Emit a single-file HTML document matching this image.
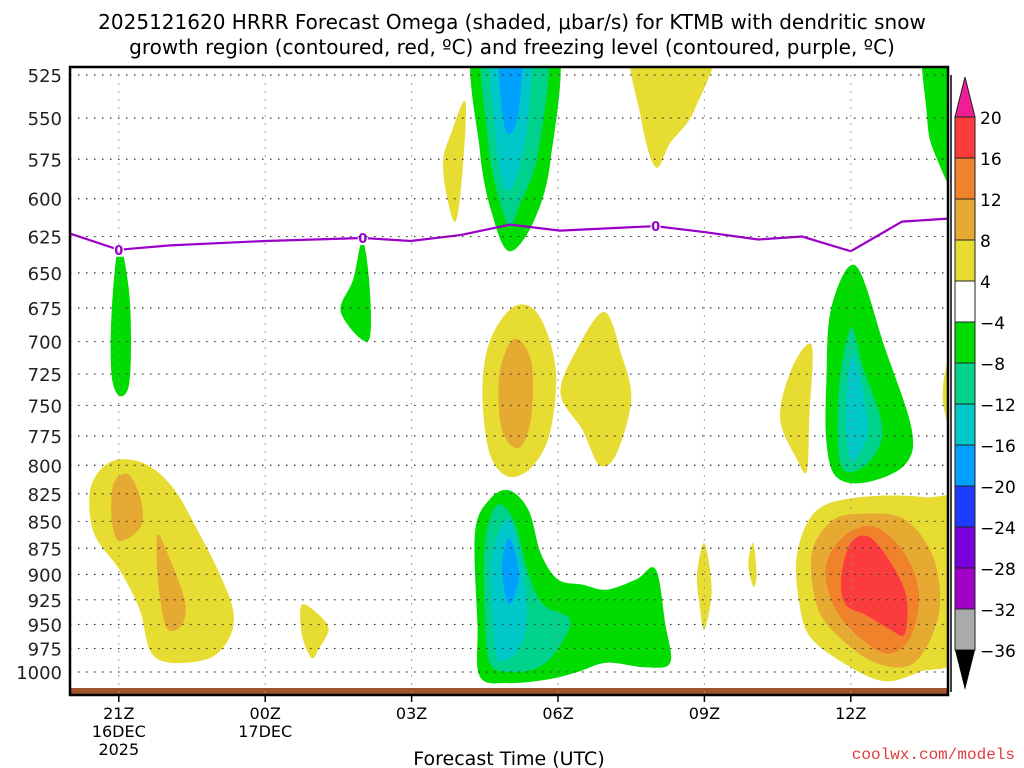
<!DOCTYPE html>
<html><head><meta charset="utf-8"><style>
html,body{margin:0;padding:0;background:#fff;}
svg{display:block;font-family:"DejaVu Sans","Liberation Sans",sans-serif;}
</style></head><body>
<svg id="chart" width="1024" height="768" viewBox="0 0 1024 768" xmlns="http://www.w3.org/2000/svg">
<rect width="1024" height="768" fill="#fff"/>
<text x="512" y="29" font-size="20" text-anchor="middle" fill="#000">2025121620 HRRR Forecast Omega (shaded, μbar/s) for KTMB with dendritic snow</text>
<text x="512" y="54" font-size="20" text-anchor="middle" fill="#000">growth region (contoured, red, ºC) and freezing level (contoured, purple, ºC)</text>
<g id="plot"></g>
<g id="axes"></g>
<g id="cbar"></g>
<text x="509" y="765" font-size="19" text-anchor="middle" fill="#000">Forecast Time (UTC)</text>
<text x="1015" y="759" font-size="16" text-anchor="end" fill="#e03c3c" font-family="Liberation Mono, monospace">coolwx.com/models</text>
</svg>
<script>
const pressureTicks=[525,550,575,600,625,650,675,700,725,750,775,800,825,850,875,900,925,950,975,1000];
const timeTicks=[21,24,27,30,33,36];
const timeLabels=[["21Z","16DEC","2025"],["00Z","17DEC"],["03Z"],["06Z"],["09Z"],["12Z"]];
const cbarLevels=[20,16,12,8,4,-4,-8,-12,-16,-20,-24,-28,-32,-36];
const cbarColors=["#fa3c3c","#f0822c","#e6aa32","#e6dc32","#ffffff","#00dc00","#00d28c","#00c8c8","#00a0ff","#1e3cff","#7800dc","#a000c8","#aaaaaa"];
const LV={y:"#e6dc32",lo:"#e6aa32",o:"#f0822c",r:"#fa3c3c",g:"#00dc00",t:"#00d28c",c:"#00c8c8",b:"#00a0ff"};
const blobLevels=["y","lo","lo","y","g","g","y","g","t","c","b","y","g","y","lo","y","y","g","t","c","y","g","t","c","b","y","y","y","lo","o","r"];
const blobShapes=[
[[20.4,826],[20.6,805],[21.0,795],[21.6,800],[22.15,822],[22.66,862],[23.07,900],[23.34,935],[23.28,962],[22.87,985],[22.05,990],[21.64,977],[21.43,935],[21.02,896],[20.5,862]],
[[20.9,815],[21.2,808],[21.45,830],[21.45,855],[21.0,868],[20.85,845]],
[[21.8,862],[22.0,880],[22.35,925],[22.3,950],[22.0,955],[21.85,925],[21.78,890]],
[[24.75,930],[25.1,940],[25.3,955],[25.1,975],[24.95,985],[24.75,960]],
[[21.0,630],[21.2,660],[21.25,700],[21.2,735],[21.0,742],[20.85,725],[20.85,680]],
[[26.0,628],[26.15,665],[26.1,700],[25.55,678],[25.8,655]],
[[28.1,540],[28.05,580],[27.9,615],[27.7,595],[27.65,575],[27.8,560]],
[[28.3,505],[29.95,505],[29.85,575],[29.5,615],[29.0,635],[28.65,610],[28.4,570]],
[[28.5,505],[29.75,505],[29.6,570],[29.2,605],[29.0,618],[28.75,595],[28.55,560]],
[[28.65,505],[29.4,505],[29.35,560],[29.0,595],[28.75,570]],
[[28.8,505],[29.25,505],[29.2,545],[29.0,560],[28.85,545]],
[[31.55,505],[33.2,505],[32.8,545],[32.3,565],[32.0,580],[31.7,550]],
[[37.5,505],[38.3,505],[38.3,598],[37.7,570],[37.55,545]],
[[28.45,740],[28.6,700],[29.1,674],[29.6,680],[29.95,720],[29.85,770],[29.5,800],[29.0,810],[28.6,790]],
[[28.8,725],[29.1,698],[29.45,715],[29.45,760],[29.2,785],[28.85,770]],
[[30.05,740],[30.4,705],[30.95,678],[31.3,710],[31.5,745],[31.2,790],[30.85,800],[30.5,770]],
[[34.55,760],[34.8,720],[35.2,703],[35.15,760],[35.1,805],[34.9,795]],
[[35.5,730],[35.6,675],[36.1,645],[36.7,705],[37.25,770],[37.1,800],[36.3,815],[35.7,810],[35.5,780]],
[[35.75,740],[36.0,690],[36.25,720],[36.65,770],[36.3,800],[35.8,800]],
[[35.9,750],[36.05,710],[36.35,765],[36.1,795],[35.95,790]],
[[37.95,720],[38.2,700],[38.2,785],[37.9,750]],
[[28.3,860],[28.6,830],[29.0,822],[29.4,840],[29.65,880],[30.0,905],[30.5,910],[31.0,915],[31.6,905],[32.0,895],[32.2,950],[32.3,990],[31.8,995],[31.0,990],[30.4,1000],[29.8,1008],[29.0,1012],[28.4,1005],[28.35,950]],
[[28.5,870],[28.75,835],[29.1,850],[29.4,900],[29.7,930],[30.25,945],[30.0,975],[29.6,995],[29.0,1000],[28.6,990],[28.5,940]],
[[28.65,880],[29.0,848],[29.3,900],[29.35,950],[29.2,975],[29.0,985],[28.75,985],[28.65,940]],
[[28.85,895],[29.0,865],[29.2,900],[29.0,930]],
[[32.85,900],[33.0,870],[33.15,915],[33.0,955],[32.9,930]],
[[33.9,890],[34.0,870],[34.07,900],[34.0,912]],
[[34.9,880],[35.3,840],[36.2,828],[37.5,828],[38.3,840],[38.3,975],[37.4,1000],[36.7,1010],[36.0,995],[35.2,965],[34.95,930]],
[[35.2,880],[35.6,850],[36.2,843],[37.1,848],[37.7,885],[37.8,940],[37.3,990],[36.5,990],[35.7,960],[35.3,930]],
[[35.5,890],[35.9,862],[36.5,855],[37.1,880],[37.4,920],[37.2,965],[36.7,980],[36.0,955],[35.6,925]],
[[35.8,905],[36.0,870],[36.4,865],[36.9,895],[37.15,925],[37.1,960],[36.8,955],[36.3,940],[35.9,930]]
];
const fzHours=[20,21,22.05,24,26,26.98,28.0,29.02,30.04,31.99,33.0,34.1,35.0,36.0,37.05,38.0];
const fzPres=[623,634,631,628,626,628,624,617,621,618,622,627,625,635,615,613];
const fzLabelHours=[21,26,32];

const NS="http://www.w3.org/2000/svg";
const L=70,R=948,T=67,B=695;
const xs=h=>70+(h-20)*48.8;
const ys=p=>75+Math.log(p/525)/Math.log(1000/525)*597;
function mk(tag,attrs,parent){const e=document.createElementNS(NS,tag);for(const k in attrs)e.setAttribute(k,attrs[k]);parent.appendChild(e);return e;}
function smooth(pts){let d="";const n=pts.length;for(let i=0;i<n;i++){const p0=pts[(i-1+n)%n],p1=pts[i],p2=pts[(i+1)%n],p3=pts[(i+2)%n];if(i===0)d+="M"+p1[0]+","+p1[1];const c1=[p1[0]+(p2[0]-p0[0])/6,p1[1]+(p2[1]-p0[1])/6],c2=[p2[0]-(p3[0]-p1[0])/6,p2[1]-(p3[1]-p1[1])/6];d+="C"+c1[0].toFixed(1)+","+c1[1].toFixed(1)+" "+c2[0].toFixed(1)+","+c2[1].toFixed(1)+" "+p2[0].toFixed(1)+","+p2[1].toFixed(1);}return d+"Z";}
const plot=document.getElementById('plot');
const defs=mk('defs',{},plot);
const cp=mk('clipPath',{id:'clip'},defs);mk('rect',{x:L,y:T,width:R-L,height:B-T},cp);
const g=mk('g',{'clip-path':'url(#clip)'},plot);
blobShapes.forEach((s,i)=>{
 const e=mk('path',{d:smooth(s.map(p=>[xs(p[0]),ys(p[1])])),fill:LV[blobLevels[i]]},g);
 
 
});
const gr=mk('rect',{x:L,y:688,width:R-L,height:6,fill:'#a0522d'},g);


pressureTicks.forEach(p=>{const e=mk('line',{x1:L,x2:R,y1:ys(p),y2:ys(p),stroke:'#333','stroke-width':1.2,'stroke-dasharray':'1.5 6.5'},plot);
 
 });
timeTicks.forEach(h=>{const e=mk('line',{x1:xs(h),x2:xs(h),y1:T,y2:B,stroke:'#999','stroke-width':1.2,'stroke-dasharray':'1.5 6.5'},plot);
 
 });
const fz=mk('polyline',{points:fzHours.map((h,i)=>xs(h)+","+ys(fzPres[i])).join(" "),fill:'none',stroke:'#9a00c8','stroke-width':2.2},g);


fzLabelHours.forEach(h=>{let i=0;while(i<fzHours.length-2&&fzHours[i+1]<h)i++;const f=(h-fzHours[i])/(fzHours[i+1]-fzHours[i]);const p=fzPres[i]+f*(fzPres[i+1]-fzPres[i]);
 mk('rect',{x:xs(h)-5,y:ys(p)-7,width:10,height:14,fill:'#fff'},g);
 const t=mk('text',{x:xs(h),y:ys(p)+5,'font-size':13,'font-weight':'bold','text-anchor':'middle',fill:'#9a00c8'},g);t.textContent='0';
 
 });
const ax=document.getElementById('axes');
mk('rect',{x:L,y:T,width:R-L,height:B-T,fill:'none',stroke:'#000','stroke-width':2.5},ax);
pressureTicks.forEach(p=>{const t=mk('text',{x:62,y:ys(p)+7,'font-size':18,'text-anchor':'end',fill:'#222'},ax);t.textContent=p;
 
 });
timeTicks.forEach((h,i)=>{mk('line',{x1:xs(h),x2:xs(h),y1:B,y2:B+7,stroke:'#000','stroke-width':1.5},ax);
 timeLabels[i].forEach((s,j)=>{const t=mk('text',{x:xs(h),y:B+24+j*18,'font-size':16,'text-anchor':'middle',fill:'#000'},ax);t.textContent=s;
 
 });});
const cb=document.getElementById('cbar');
const cby=i=>117+i*41;
mk('polygon',{points:`955,${cby(0)} 975,${cby(0)} 965,77`,fill:'#f01e96',stroke:'#222','stroke-width':1},cb);
cbarColors.forEach((c,i)=>{const e=mk('rect',{x:955,y:cby(i),width:20,height:41,fill:c,stroke:'#222','stroke-width':1},cb);
 
 });
const last=cbarLevels.length-1;
mk('polygon',{points:`955,${cby(last)} 975,${cby(last)} 965,690`,fill:'#000'},cb);
mk('line',{x1:951,x2:951,y1:75,y2:692,stroke:'#000','stroke-width':1.5},cb);
cbarLevels.forEach((v,i)=>{const t=mk('text',{x:980,y:cby(i)+7,'font-size':17,fill:'#000'},cb);t.textContent=v<0?"−"+(-v):v;
 
 });
</script>
</body></html>
